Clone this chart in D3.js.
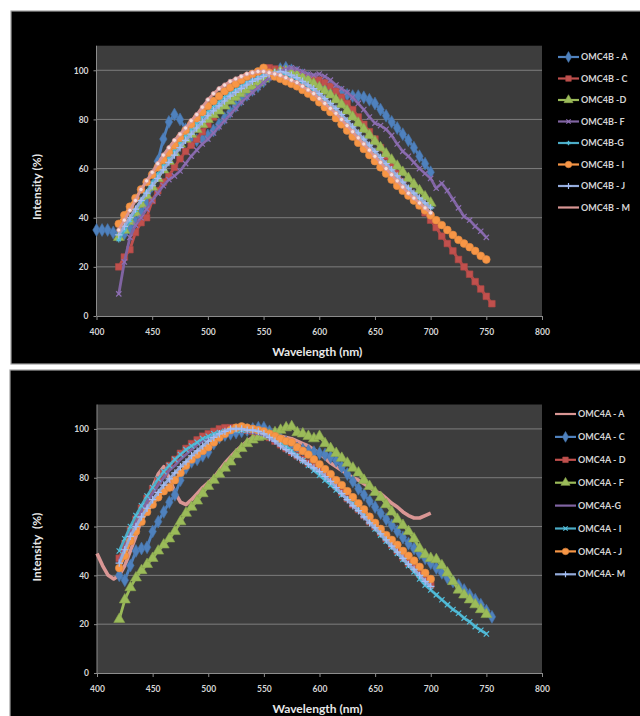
<!DOCTYPE html>
<html lang="en">
<head>
<meta charset="utf-8">
<title>OMC4B / OMC4A emission spectra</title>
<script src="https://d3js.org/d3.v7.min.js"></script>
<style>
  body { margin: 0; background: #fff; font-family: Lato, "Open Sans", sans-serif; }
  .axis text { fill: #d6d6d6; font-size: 8.5px; font-weight: bold; font-family: Lato, "Open Sans", sans-serif; }
  .axis path, .axis line { stroke: #8c8c8c; }
</style>
</head>
<body>
<div id="chart"></div>
<script>
// sample wavelengths (nm), one point every 5 nm
const wavelengths = [400,405,410,415,420,425,430,435,440,445,450,455,460,465,470,475,480,485,490,495,
  500,505,510,515,520,525,530,535,540,545,550,555,560,565,570,575,580,585,590,595,
  600,605,610,615,620,625,630,635,640,645,650,655,660,665,670,675,680,685,690,695,
  700,705,710,715,720,725,730,735,740,745,750,755];
const xTicks = [400,450,500,550,600,650,700,750,800];
const yTicks = [0,20,40,60,80,100];

// ---- OMC4B (top chart) ----
const namesB = ["OMC4B - A","OMC4B - C","OMC4B -D","OMC4B- F","OMC4B-G","OMC4B - I","OMC4B - J","OMC4B - M"];
const startB = [400,420,420,420,420,420,420,420];
const b_A = [35,35,35,34,33.5,33.5,35.5,38.5,42,46,53,63,72,79,82,80,76,72.5,71.5,72,73.5,75.5,78,80.5,83,85.5,88,90,92,93.5,95.5,97.5,99,100.5,101,100,99,98,97,96,95,94,93,92,91,90,89.5,89.5,89,88,86.5,84,81.5,79,76.5,74,71.5,68.5,65,62,58.5];
const b_C = [20,24,27,34,38,40,47,51,54.5,57,60.5,64,67,69.5,72,75,78,81,84,86.5,89,91,93,95,97,98.5,100,101,100.5,100,99.5,99,98.5,98,97.5,97,96,95,93.5,91.5,89,86.5,84,81,78,75,72,68.5,65,61.5,58,54.5,51,48,45,42,39,36,32.5,29.5,26.5,23,20,17,14,11,8,5];
const b_D = [32,35,38.5,42,45.5,49,52.5,56,59.5,63,66.5,70,72,74,76,78,80,82,83.5,85.5,87.5,89,90.5,92,93.5,95,96.5,97.5,98.5,99.5,99.5,99,98,97,96,94.5,93,91.5,90,88,86,83.5,81,78.5,76,73.5,71,68.5,66,63.5,61,58.5,56,53.5,51,48.5,46];
const b_F = [9,22,32,37,40,43.5,47,50,53,55.5,57,59,62,65,67.5,70,72,74.5,77,79.5,82,84.5,87,89,91,93,95,97,98.5,99.5,100.5,101,100.5,99.5,98.5,98,98.5,97.5,96,94,92.5,91,89,86.5,84,81,78.5,77.5,76,73.5,70,67,65,62.5,60,58,56,52,54,51,47.5,44,40.5,39,36.5,34.5,32];
const b_G = [31,35,39,43,47,50.5,54,57.5,61,64.5,67.5,70.5,73.5,76,78.5,81,83,85,87,89,90.5,92,93.5,95,96,97,98,98.5,99,99,98.5,97.5,96.5,95,93.5,92,90,88,86,84,81.5,79,76.5,74,71.5,69,66.5,64,61.5,59,56.5,54,51.5,49.5,47.5,45.5,44];
const b_I = [37.5,41,44.5,48,51.5,54.5,57.5,60.5,63.5,66.5,69.5,72.5,75.5,78,80.5,83,85.5,87.5,89.5,91.5,93,94.5,96,97.5,98.5,99.5,101,99,97.5,96.5,95.5,94.5,93.5,92,90.5,89,87,85,83,80.5,78,75.5,73,70.5,68,65.5,63,60.5,58,55.5,53,51,49,47,45,43,41,39,37,35,33,31,29.5,28,26.5,24.5,23];
const b_J = [33,36.5,40,43.5,47,50,53,56,59.5,62.5,65.5,68.5,71.5,74,76.5,79,81.5,83.5,85.5,87.5,89.5,91,92.5,94,95.5,96.5,97.5,98.5,99,99.5,99,98,97,95.5,94,92.5,90.5,88.5,86.5,84.5,82,79.5,77,74.5,72,69.5,67,64.5,62,59.5,57,54.5,52,50,48,46,44];
const b_M = [35,39,43,47,51.5,55,58.5,62,65.5,68.5,71.5,74,76.5,79.5,82,85,88,90.5,92.5,94,95.5,96.5,97.5,98.5,99,99.5,99.5,99,98.5,98,97,96,95,93.5,92,90.5,88.5,86.5,84.5,82.5,80,77.5,75,72.5,70,67.5,65,62.5,60,57.5,55,52.5,50,48,46,44,42];
const valuesB = [b_A,b_C,b_D,b_F,b_G,b_I,b_J,b_M];

// ---- OMC4A (bottom chart) ----
const namesA = ["OMC4A - A","OMC4A - C","OMC4A - D","OMC4A - F","OMC4A-G","OMC4A - I","OMC4A - J","OMC4A- M"];
const startA = [400,420,420,420,420,420,420,420];
const a_A = [49,44,40,38.5,40,44,50,56,63,70,76,81.5,84.5,80,74,70,69,71,73.5,76,78,80,83,86,88.5,91,93,95,96.5,97.5,98,98,97.5,97,96.5,96,95,94,93,91.5,90,88,86,84.5,83,81.5,80,79,77.5,76,74.5,73.5,71.5,69.5,68,66,64.5,63.5,63.5,64.5,65.5];
const a_C = [40,38,44,50,51,51.5,58,62,66,70,73,79,84,86.5,87.5,89,90.5,94,96.5,97.5,98,98.5,99,99.5,100,100.5,100.5,99,97.5,96,94.5,93,92,91.5,91,90.5,90,89.5,88.5,87,84.5,81.5,78.5,75.5,73,70.5,68,65.5,63,60.5,58,55.5,53,51,49,47,45,43,41,39,37.5,36,34,32,30,28,25.5,23];
const a_D = [47,53,58.5,63,67.5,71.5,75.5,79,82,85,87.5,90,92,94,95.5,97,98,99,100,100.5,100.5,100.5,100,99.5,99,98.5,98,96.5,95,93.5,92,90.5,89,87.5,86,84.5,83,81,79,76.5,74,71.5,69,67,64.5,62,60,57.5,55,52.5,50,47.5,45,43,40.5,38,36];
const a_F = [22,30,35,39,42,44.5,47,50,52.5,55,58,62,65.5,68,70.5,73.5,76.5,79,81.5,84,86.5,89.5,92,94,95.5,96.5,97,97.5,98.5,99.5,100.5,101,98.5,98,97,96,97,94,92,90,88,86,84,82,79,76.5,74,72,69,66,63,60.5,58,55,51,48.5,47,46.5,44,41,37.5,34,32,30,28,26,24];
const a_G = [46,51.5,57,61.5,66,70,73.5,77,80,83,85,87.5,89.5,91.5,93.5,95,96.5,97.5,98.5,99,99.5,99.5,99.5,99,98.5,98,97.5,96,94.5,93,91.5,90,88.5,87,85.5,84,82.5,80.5,78.5,76,73.5,71,68.5,66.5,64,61.5,59.5,57,54.5,52,49.5,47,44.5,42.5,40,37.5,35.5];
const a_I = [50,55,60,64.5,68.5,72.5,76,79.5,82.5,85,87.5,89.5,91.5,93,94.5,96,97,98,98.5,99,99.5,99.5,99.5,99.5,99.5,99,98.5,97.5,96,94.5,93,91,89,87,85,83,81,79,77,75,73,71.5,69.5,67,64.5,62,59,56.5,54,51.5,49,46.5,44,41.5,38.5,36,34,32,30,28,26,24.5,22.5,21,19,17.5,16];
const a_J = [43,48,54,58,62,66,69,72,74.5,76,79,82,85,87.5,89.5,91,92.5,94.5,96.5,98,99.5,100.5,101,100.5,100,99.5,99,98,97,96,95,94.5,92.5,91,89.5,87.5,85.5,83.5,81.5,79,77,74.5,72,69.5,67,64,61.5,59,56.5,54.5,52.5,50,48,46,43.5,41,38.5];
const a_M = [45,50.5,56,60,64,67.5,71,74,77,79.5,82,84.5,86.5,89,91,93,95,96.5,98,99,100,100,100,99.5,99.5,99,98,96.5,95,93,91.5,90,88.5,87,85.5,84,82.5,80.5,78.5,76,73.5,71,68.5,66.5,64,61.5,59.5,57,54.5,52,49.5,47,44.5,42.5,40,37.5,35.5];
const valuesA = [a_A,a_C,a_D,a_F,a_G,a_I,a_J,a_M];

// ---- styles ----
const C = {blue:"#4f81bd", red:"#c0504d", green:"#9bbb59", purple:"#8064a2",
           aqua:"#4bacc6", orange:"#f79646", lavender:"#94abdb", pink:"#d99694"};
const styleB = [
  {color:C.blue, mark:"diamond"}, {color:C.red, mark:"square"}, {color:C.green, mark:"triangle"},
  {color:C.purple, mark:"x"}, {color:C.aqua, mark:"star"}, {color:C.orange, mark:"circle"},
  {color:C.lavender, mark:"plus"}, {color:C.pink, mark:"dot"}];
const styleA = [
  {color:C.pink, mark:null, width:3.6}, {color:C.blue, mark:"diamond"}, {color:C.red, mark:"square"},
  {color:C.green, mark:"triangle"}, {color:C.purple, mark:null}, {color:C.aqua, mark:"x"},
  {color:C.orange, mark:"circle"}, {color:C.lavender, mark:"plus"}];

const symbolTypes = {
  diamond: [d3.symbolDiamond, 48], square: [d3.symbolSquare, 44], triangle: [d3.symbolTriangle, 52],
  circle: [d3.symbolCircle, 48], dot: [d3.symbolCircle, 14],
  x: [d3.symbolX || d3.symbolCross, 20], plus: [d3.symbolPlus || d3.symbolCross, 20],
  star: [d3.symbolAsterisk || d3.symbolStar, 18]
};
const strokeMarks = ["x","plus","star"];

const W = 640, H = 716;
const svg = d3.select("#chart").append("svg").attr("width", W).attr("height", H);

function drawMark(sel, st, legend) {
  const t = symbolTypes[st.mark];
  const p = sel.append("path").attr("d", d3.symbol().type(t[0]).size(legend ? t[1] * 0.7 : t[1]));
  if (strokeMarks.includes(st.mark)) {
    p.attr("fill", "none").attr("stroke", d3.color(st.color).brighter(0.3)).attr("stroke-width", 1.2);
  } else if (st.mark === "dot") {
    p.attr("fill", "#f4dedd").attr("stroke", st.color).attr("stroke-width", 0.8);
  } else {
    p.attr("fill", st.color).attr("stroke", d3.color(st.color).darker(0.3)).attr("stroke-width", 0.6);
  }
}

function drawPanel(p) {
  const g = svg.append("g");
  g.append("rect").attr("x", p.box[0]).attr("y", p.box[1]).attr("width", p.box[2]).attr("height", p.box[3])
    .attr("fill", "#000").attr("stroke", "#a0a0a0").attr("stroke-width", 1.2);

  const x = d3.scaleLinear().domain([400, 800]).range([p.left, p.right]);
  const y = d3.scaleLinear().domain([0, 110]).range([p.bottom, p.top]);

  g.append("rect").attr("x", x(400)).attr("y", y(110)).attr("width", x(800) - x(400)).attr("height", y(0) - y(110))
    .attr("fill", "#3d3d3d");

  g.selectAll("line.grid").data(yTicks.filter(v => v > 0)).join("line").attr("class", "grid")
    .attr("x1", x(400)).attr("x2", x(800)).attr("y1", d => y(d)).attr("y2", d => y(d))
    .attr("stroke", "#7d7d7d").attr("stroke-width", 1);

  g.append("g").attr("class", "axis").attr("transform", `translate(0,${y(0)})`)
    .call(d3.axisBottom(x).tickValues(xTicks).tickSize(4).tickSizeOuter(0).tickPadding(9));
  g.append("g").attr("class", "axis").attr("transform", `translate(${x(400)},0)`)
    .call(d3.axisLeft(y).tickValues(yTicks).tickSize(3).tickSizeOuter(0).tickPadding(5))
    .select(".domain").attr("d", `M0,${y(0)}V${y(110)}`);

  g.append("text").attr("x", (x(400) + x(800)) / 2 - 2).attr("y", y(0) + 40)
    .attr("text-anchor", "middle").attr("fill", "#e8e8e8").attr("font-size", 12).attr("font-weight", "bold")
    .text("Wavelength (nm)");
  g.append("text").attr("transform", `translate(41,${p.ylabelY}) rotate(-90)`)
    .attr("text-anchor", "middle").attr("fill", "#e8e8e8").attr("font-size", 12).attr("font-weight", "bold")
    .style("white-space", "pre")
    .text(p.ylabel);

  const line = d3.line().x(d => x(d[0])).y(d => y(d[1]));
  p.values.forEach((vals, i) => {
    const st = p.styles[i];
    const i0 = wavelengths.indexOf(p.starts[i]);
    const pts = vals.map((v, k) => [wavelengths[i0 + k], v]);
    const sg = g.append("g");
    sg.append("path").datum(pts).attr("d", line).attr("fill", "none")
      .attr("stroke", st.color).attr("stroke-width", st.width || 2.8).attr("stroke-linejoin", "round");
    if (st.mark) {
      pts.forEach(d => {
        const m = sg.append("g").attr("transform", `translate(${x(d[0])},${y(d[1])})`);
        drawMark(m, st, false);
      });
    }
  });

  // legend
  p.names.forEach((name, i) => {
    const st = p.styles[i];
    const ly = p.legY + i * p.legStep;
    const lg = g.append("g");
    lg.append("line").attr("x1", p.legX).attr("x2", p.legX + 21).attr("y1", ly).attr("y2", ly)
      .attr("stroke", st.color).attr("stroke-width", 2.2);
    if (st.mark && st.mark !== "dot") {
      const m = lg.append("g").attr("transform", `translate(${p.legX + 10.5},${ly})`);
      drawMark(m, st, true);
    }
    lg.append("text").attr("x", p.legX + 23).attr("y", ly).attr("dy", "0.35em")
      .attr("fill", "#d4d4d4").attr("font-size", 9).attr("font-weight", "bold").text(name);
  });
}

drawPanel({box:[11, 11, 640, 353], left:96.5, right:542, top:45.7, bottom:316,
  values:valuesB, starts:startB, names:namesB, styles:styleB,
  legX:558, legY:57, legStep:21.5, ylabel:"Intensity (%)", ylabelY:187});
drawPanel({box:[10, 370, 640, 360], left:97, right:542, top:404.5, bottom:673,
  values:valuesA, starts:startA, names:namesA, styles:styleA,
  legX:555, legY:414, legStep:22.9, ylabel:"Intensity  (%)", ylabelY:547});
</script>
</body>
</html>
